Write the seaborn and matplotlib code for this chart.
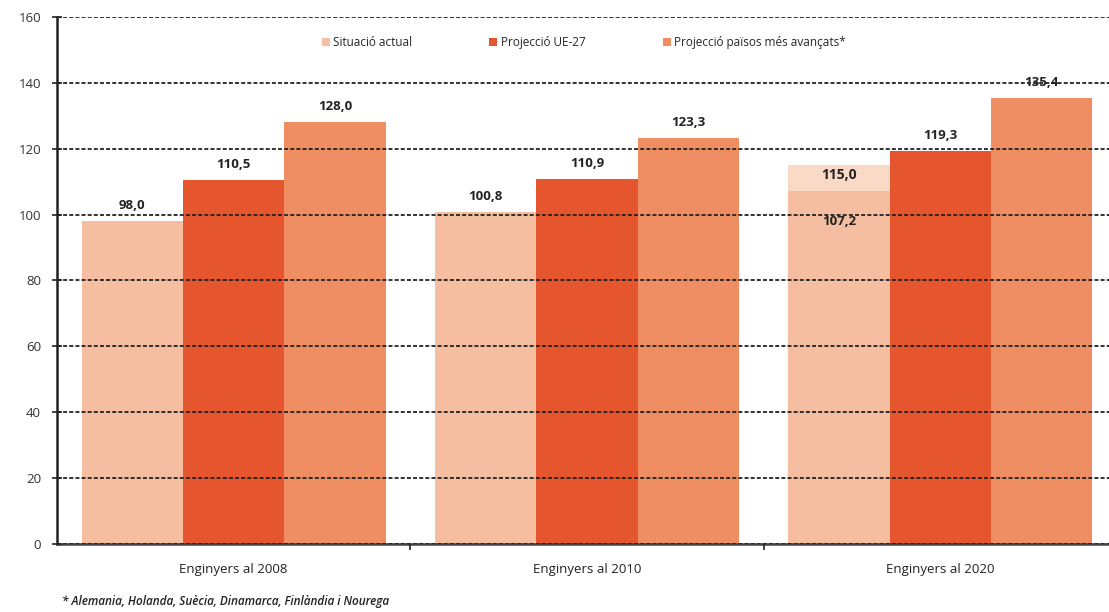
import pandas as pd
import matplotlib
matplotlib.use("Agg")
import matplotlib.pyplot as plt
import seaborn as sns

# dades llegides del gràfic
grups = ["Enginyers al 2008", "Enginyers al 2010", "Enginyers al 2020"]
series = ["Situació actual", "Projecció UE-27", "Projecció països més avançats*"]
situacio_actual = [98.0, 100.8, 107.2]
projeccio_ue27 = [110.5, 110.9, 119.3]
projeccio_avancats = [128.0, 123.3, 135.4]
# tram superior de la situació actual al 2020
situacio_actual_max = [0.0, 0.0, 115.0]
y_ticks = [0, 20, 40, 60, 80, 100, 120, 140, 160]
nota = "* Alemania, Holanda, Suècia, Dinamarca, Finlàndia i Nourega"

colors = ["#F6BEA1", "#E5552E", "#EF8D63"]
color_tram = "#FBD9C7"

df = pd.DataFrame({
    "grup": grups * 3,
    "serie": [series[0]] * 3 + [series[1]] * 3 + [series[2]] * 3,
    "valor": situacio_actual + projeccio_ue27 + projeccio_avancats,
})
df_tram = pd.DataFrame({
    "grup": grups * 3,
    "serie": [series[0]] * 3 + [series[1]] * 3 + [series[2]] * 3,
    "valor": situacio_actual_max + [0.0] * 6,
})

sns.set_theme(style="white")
plt.rcParams["font.family"] = ["Open Sans", "DejaVu Sans"]

fig = plt.figure(figsize=(11.09, 6.12), dpi=100)
ax = fig.add_axes([57 / 1109, 68 / 612, 1060 / 1109, 527 / 612])

sns.barplot(data=df_tram, x="grup", y="valor", hue="serie", hue_order=series,
            order=grups, palette=[color_tram] * 3, width=0.86, saturation=1,
            legend=False, ax=ax)
n_tram = len(ax.containers)
sns.barplot(data=df, x="grup", y="valor", hue="serie", hue_order=series,
            order=grups, palette=colors, width=0.86, saturation=1, ax=ax)

for p in ax.patches:
    p.set_linewidth(0)

# etiquetes de valor
main = ax.containers[n_tram:]
for si, cont in enumerate(main):
    for gi, bar in enumerate(cont):
        h = bar.get_height()
        x = bar.get_x() + bar.get_width() / 2
        if si == 0 and situacio_actual_max[gi] > 0:
            ax.text(x, h - 9.3, f"{h:.1f}".replace(".", ","), ha="center", va="center",
                    fontsize=9.5, fontweight="bold", color="#222222")
        else:
            ax.text(x, h + 4.7, f"{h:.1f}".replace(".", ","), ha="center", va="center",
                    fontsize=9.5, fontweight="bold", color="#222222")
for gi, bar in enumerate(ax.containers[0]):
    if situacio_actual_max[gi] > 0:
        h = bar.get_height()
        x = bar.get_x() + bar.get_width() / 2
        ax.text(x, h - 3.0, f"{h:.1f}".replace(".", ","), ha="center", va="center",
                fontsize=10, fontweight="bold", color="#222222")

ax.set_ylim(0, 160)
ax.set_xlim(-0.5, 2.5)
ax.set_yticks(y_ticks)
ax.yaxis.grid(True, linestyle=(0, (2.2, 1.2)), color="#222222", linewidth=1.3)
ax.set_axisbelow(False)
ax.set_xlabel("")
ax.set_ylabel("")

ax.tick_params(axis="y", direction="inout", length=7, width=1.2, color="#222222",
               labelsize=9.5, labelcolor="#333333", pad=8, left=True)
ax.tick_params(axis="x", length=0, labelsize=9.5, labelcolor="#222222", pad=14)
ax.set_xticks([0.5, 1.5], minor=True)
ax.tick_params(axis="x", which="minor", direction="out", length=4, width=1.2,
               color="#222222", bottom=True)

for side in ["top", "right"]:
    ax.spines[side].set_visible(False)
ax.spines["left"].set_color("#222222")
ax.spines["left"].set_linewidth(1.8)
ax.spines["bottom"].set_color("#444444")
ax.spines["bottom"].set_linewidth(1.8)

handles, labels = ax.get_legend_handles_labels()
ax.legend(handles, labels, loc="center", bbox_to_anchor=(0.497, 0.951), ncol=3,
          frameon=False, fontsize=8.5, handlelength=0.7, handleheight=0.7,
          handletextpad=0.3, columnspacing=6.5)

fig.text(62 / 1109, 1 - 602 / 612, nota, ha="left", va="center", fontsize=8.5,
         style="italic", fontweight="semibold", color="#222222")

fig.savefig("out.png", dpi=100)
